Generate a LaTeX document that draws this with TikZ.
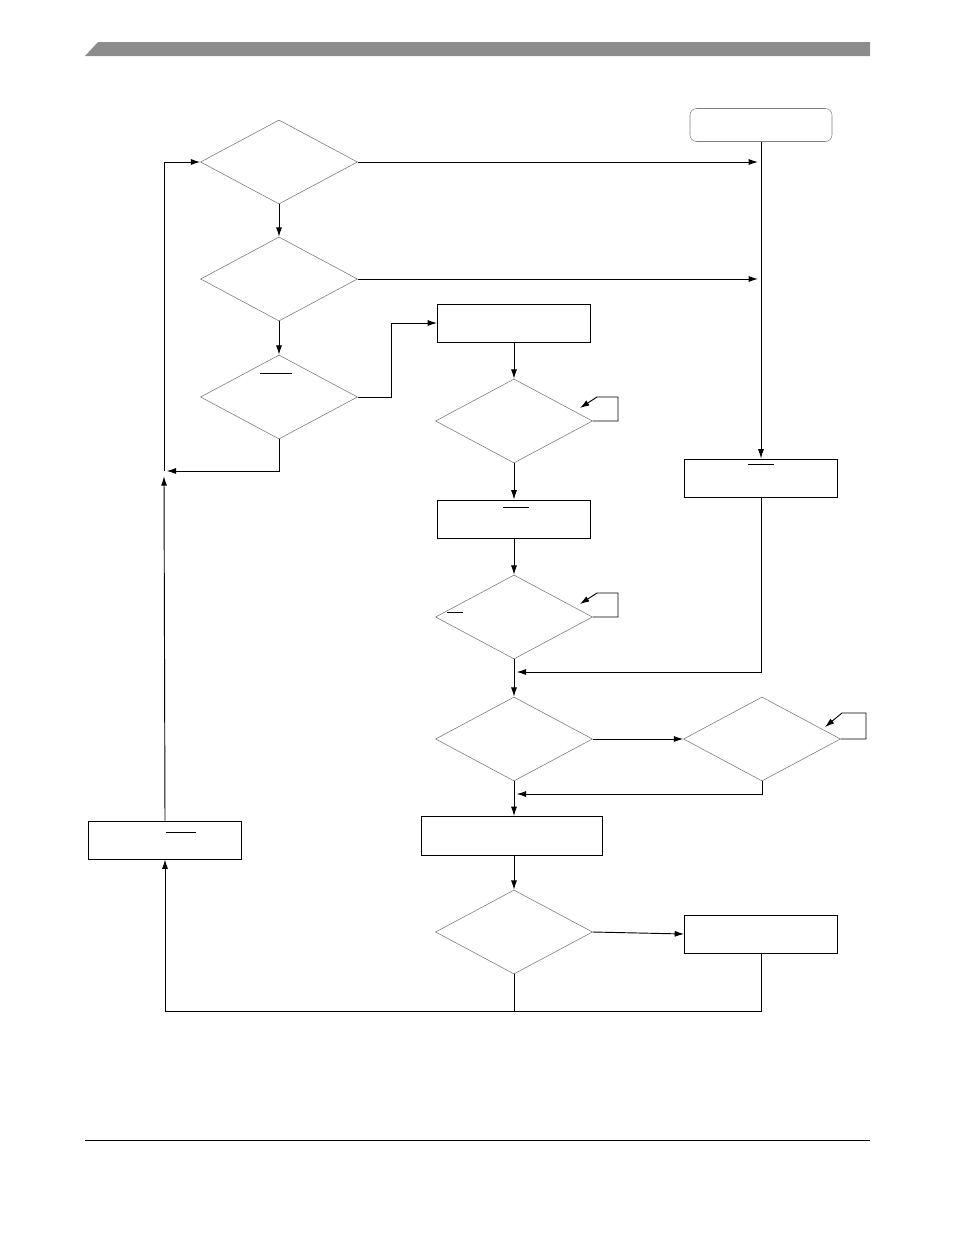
\documentclass[tikz,border=0pt]{standalone}
\usetikzlibrary{shapes.geometric,arrows.meta}
\tikzset{
  decide/.style={diamond, draw=black!55, inner sep=0pt, minimum width=117.75pt, minimum height=63pt},
  stepbox/.style={rectangle, draw, line width=0.7pt, minimum width=114.75pt, minimum height=28.5pt},
  startbox/.style={rectangle, rounded corners=5pt, draw=black!50, minimum width=106.5pt, minimum height=24.75pt},
  flow/.style={line width=0.7pt, -{Latex[length=7pt,width=4.5pt]}},
  plain/.style={line width=0.7pt}
}
\begin{document}
\begin{tikzpicture}[x=0.75pt,y=-0.75pt]
  \useasboundingbox (0,0) rectangle (954,1235);
  % Header and footer rules:
  \fill [black!45] (98,42) -- (870,42) -- (870,56) -- (85,56) -- cycle;
  \draw [line width=0.6pt] (85,1140) -- (870,1140);

  % Nodes:
  \node [decide] (chkA) at (279,162) {};
  \node [decide] (chkB) at (279,279) {};
  \node [decide] (chkC) at (279,397) {};
  \node [startbox] (start) at (761,125) {};
  \node [stepbox] (setA) at (514,323) {};
  \node [decide] (waitA) at (514,421) {};
  \node [stepbox] (setB) at (514,519) {};
  \node [decide] (waitB) at (514,617) {};
  \node [stepbox] (reset) at (761,478) {};
  \node [decide] (chkD) at (514,739) {};
  \node [decide] (waitC) at (762,739) {};
  \node [stepbox, minimum width=135.75pt, minimum height=29.25pt] (setC) at (512,836) {};
  \node [decide] (chkE) at (514,932) {};
  \node [stepbox] (setD) at (761,934) {};
  \node [stepbox] (setE) at (165,840) {};

  % Overbars:
  \draw [plain] (260,373) -- (292,373);
  \draw [plain] (503,507) -- (529,507);
  \draw [plain] (447,612) -- (463,612);
  \draw [plain] (748,464) -- (774,464);
  \draw [plain] (166,832) -- (196,832);

  % Helper points:
  \coordinate (railA) at (762,162);
  \coordinate (railB) at (762,279);
  \coordinate (joinA) at (514,672);
  \coordinate (joinB) at (514,794);
  \coordinate (joinL) at (164,471);
  \coordinate (joinD) at (514,1011);

  % Connectors:
  \draw [flow] (chkA.east) -- ([xshift=-3pt]railA);
  \draw [flow] (chkB.east) -- ([xshift=-3pt]railB);
  \draw [flow] (start.south) -- (reset.north);
  \draw [flow] (chkA.south) -- (chkB.north);
  \draw [flow] (chkB.south) -- (chkC.north);
  \draw [flow] (chkC.east) -- (391,397) |- (setA.west);
  \draw [flow] (chkC.south) |- ([xshift=2pt]joinL);
  \draw [flow] (setE.north) -- ([yshift=-4pt]joinL);
  \draw [flow] (joinL) |- (chkA.west);
  \draw [flow] (setA.south) -- (waitA.north);
  \draw [flow] (waitA.east) -- (618,421) -- (618,397) -- (597,397) -- (580,408);
  \draw [flow] (waitA.south) -- (setB.north);
  \draw [flow] (setB.south) -- (waitB.north);
  \draw [flow] (waitB.east) -- (618,617) -- (618,593) -- (597,593) -- (580,604);
  \draw [flow] (reset.south) |- ([xshift=2pt]joinA);
  \draw [flow] (waitB.south) -- (chkD.north);
  \draw [flow] (chkD.east) -- (waitC.west);
  \draw [flow] (waitC.east) -- (866,739) -- (866,713) -- (842,713) -- (825,727);
  \draw [flow] (waitC.south) |- ([xshift=2pt]joinB);
  \draw [flow] (chkD.south) -- (setC.north -| chkD.south);
  \draw [flow] (setC.south -| chkE.north) -- (chkE.north);
  \draw [flow] (chkE.east) -- (setD.west);
  \draw [plain] (chkE.south) -- (joinD);
  \draw [flow] (setD.south) |- (joinD) -| (setE.south);
\end{tikzpicture}
\end{document}
